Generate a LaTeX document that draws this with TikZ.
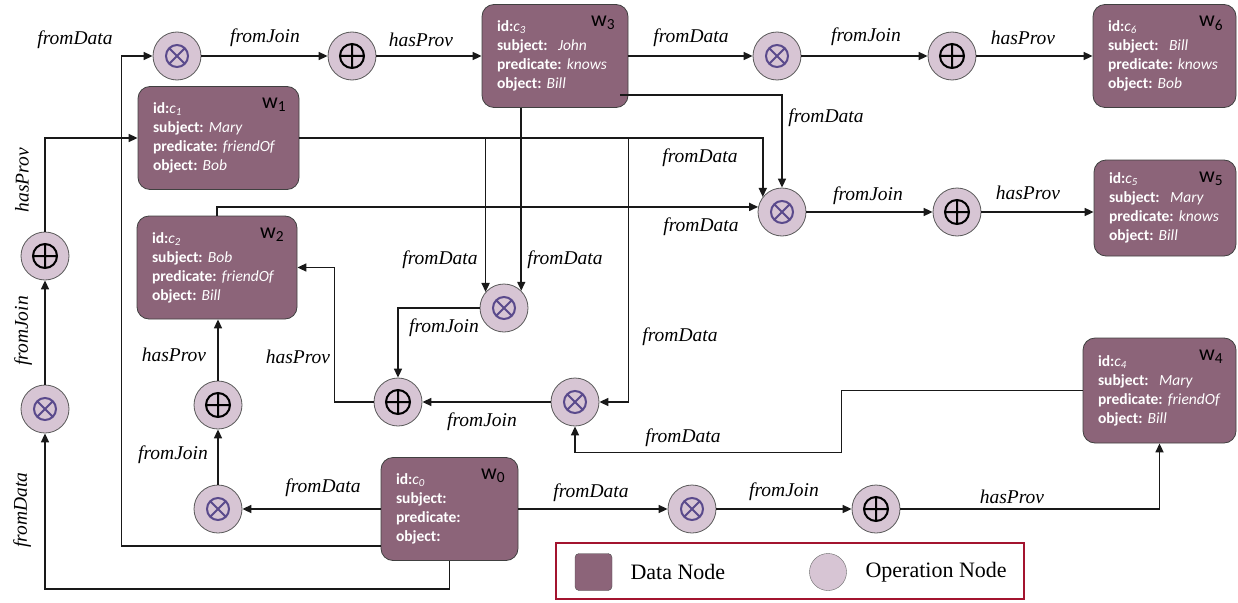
\documentclass[tikz,border=0pt]{standalone}
\usepackage{fontspec}
\setmainfont{Liberation Serif}
\newfontfamily\datafont{Carlito}
\usepackage{xcolor}
\usepackage{tikz}
\usetikzlibrary{shapes,arrows.meta,positioning,calc}

\definecolor{datafill}{HTML}{8C6479}
\definecolor{opfill}{HTML}{D7C5D4}
\definecolor{crosscol}{HTML}{5A4A8C}
\definecolor{legendred}{HTML}{A3142F}

\tikzset{
  link/.style={draw=black!90, line width=1.6pt, -{Triangle[length=9pt,width=8pt]}},
  lbl/.style={font=\fontsize{19.5}{21}\selectfont\itshape, inner sep=0pt},
  vlbl/.style={lbl, rotate=90},
  datanode/.style={rectangle, rounded corners=12pt, draw=black!75, line width=0.8pt, fill=datafill,
    text=white, minimum height=103pt, inner xsep=15pt, text width=#1, align=left,
    font=\datafont\fontsize{15.5}{19}\selectfont},
  wname/.style={font=\datafont\fontsize{22}{22}\selectfont, text=black, inner sep=0pt},
  wtag/.style={label={[wname, anchor=north east, xshift=-13pt, yshift=-12pt]north east:w\textsubscript{#1}}},
  opnode/.style={circle, draw=black!65, line width=0.8pt, fill=opfill, minimum size=48pt, inner sep=0pt},
  joinop/.style={opnode, path picture={
      \draw[crosscol, line width=2pt] (path picture bounding box.center) circle (11pt)
        ([shift={(45:11pt)}]path picture bounding box.center) -- ([shift={(225:11pt)}]path picture bounding box.center)
        ([shift={(135:11pt)}]path picture bounding box.center) -- ([shift={(315:11pt)}]path picture bounding box.center);}},
  unionop/.style={opnode, path picture={
      \draw[black, line width=2pt] (path picture bounding box.center) circle (12pt)
        ([xshift=-12pt]path picture bounding box.center) -- ([xshift=12pt]path picture bounding box.center)
        ([yshift=-12pt]path picture bounding box.center) -- ([yshift=12pt]path picture bounding box.center);}}
}

\begin{document}
\begin{tikzpicture}[x=1pt, y=-1pt]
    \useasboundingbox (0,0) rectangle (1238,602);

    % data nodes
    \node[datanode=107pt, wtag=0] (w0) at (449.5,509) {\textbf{id:}\textit{c\textsubscript{0}}\\ \textbf{subject:}\\ \textbf{predicate:}\\ \textbf{object:}};
    \node[datanode=131pt, wtag=1] (w1) at (218.5,138) {\textbf{id:}\textit{c\textsubscript{1}}\\ \textbf{subject:}~\textit{Mary}\\ \textbf{predicate:}~\textit{friendOf}\\ \textbf{object:}~\textit{Bob}};
    \node[datanode=130pt, wtag=2] (w2) at (217,267.5) {\textbf{id:}\textit{c\textsubscript{2}}\\ \textbf{subject:}~\textit{Bob}\\ \textbf{predicate:}~\textit{friendOf}\\ \textbf{object:}~\textit{Bill}};
    \node[datanode=116pt, wtag=3] (w3) at (555,56) {\textbf{id:}\textit{c\textsubscript{3}}\\ \textbf{subject:}~~\textit{John}\\ \textbf{predicate:}~\textit{knows}\\ \textbf{object:}~\textit{Bill}};
    \node[datanode=123pt, wtag=4, minimum height=105pt] (w4) at (1159.5,390.5) {\textbf{id:}\textit{c\textsubscript{4}}\\ \textbf{subject:}~~\textit{Mary}\\ \textbf{predicate:}~\textit{friendOf}\\ \textbf{object:}~\textit{Bill}};
    \node[datanode=112pt, wtag=5, minimum height=96pt] (w5) at (1165,208) {\textbf{id:}\textit{c\textsubscript{5}}\\ \textbf{subject:}~~\textit{Mary}\\ \textbf{predicate:}~\textit{knows}\\ \textbf{object:}~\textit{Bill}};
    \node[datanode=113pt, wtag=6] (w6) at (1164.5,56) {\textbf{id:}\textit{c\textsubscript{6}}\\ \textbf{subject:}~~\textit{Bill}\\ \textbf{predicate:}~\textit{knows}\\ \textbf{object:}~\textit{Bob}};

    % operation nodes
    \node[joinop] (j1) at (177,56) {};
    \node[unionop] (u1) at (352,56) {};
    \node[joinop] (j6) at (777,56) {};
    \node[unionop] (u6) at (952,56) {};
    \node[joinop] (j5) at (782,212) {};
    \node[unionop] (u5) at (957,212) {};
    \node[joinop] (jl) at (45,409) {};
    \node[unionop] (ul) at (45,256) {};
    \node[joinop] (j2a) at (218,509) {};
    \node[unionop] (u2a) at (218,405) {};
    \node[joinop] (j2b) at (504,308) {};
    \node[unionop] (u2b) at (398,402) {};
    \node[joinop] (j2c) at (575,402) {};
    \node[joinop] (j4) at (692,509) {};
    \node[unionop] (u4) at (876,509) {};
    \coordinate (cx) at ([xshift=29pt]j2c.east);

    % connectors
    \draw[link] ([yshift=-37pt]w0.west) -| ([xshift=-31pt]j1.west) -- (j1);
    \draw[link] (w0.south) -- ++(0,28) -| (jl);
    \draw[link] (jl) -- (ul);
    \draw[link] (ul) |- (w1);
    \draw[link] (j1) -- (u1);
    \draw[link] (u1) -- (w3);
    \draw[link] (w3) -- (j6);
    \draw[link] (j6) -- (u6);
    \draw[link] (u6) -- (w6);
    \draw[link] ([xshift=-8pt,yshift=-39pt]w3.east) -| (j5);
    \draw[link] (w1.east) -| (j5.142);
    \draw[link] (j2b.139 |- w1.east) -- (j2b.139);
    \draw[link] (w3.south -| j2b.45) -- (j2b.45);
    \draw[link] (cx |- w1.east) |- (j2c);
    \draw[link] (w2.north) |- (j5.168);
    \draw[link] (j2b) -| (u2b);
    \draw[link] (j2c) -- (u2b);
    \draw[link] (u2b.west) -- ++(-39,0) |- (w2);
    \draw[link] (w4.west) -| ++(-241,62) -| (j2c);
    \draw[link] (w0) -- (j2a);
    \draw[link] (j2a) -- (u2a);
    \draw[link] (u2a) -- (u2a |- w2.south);
    \draw[link] (w0) -- (j4);
    \draw[link] (j4) -- (u4);
    \draw[link] (u4) -| (w4);
    \draw[link] (j5) -- (u5);
    \draw[link] (u5) -- (u5 -| w5.west);

    % labels
    \node[lbl] (l1) at (75,40) {fromData};
    \node[lbl] (l2) at (265,38) {fromJoin};
    \node[lbl] (l3) at (421,40) {hasProv};
    \node[lbl] (l4) at (691,38) {fromData};
    \node[lbl] (l5) at (866,37) {fromJoin};
    \node[lbl] (l6) at (1023,38) {hasProv};
    \node[lbl] (l7) at (826,118) {fromData};
    \node[lbl] (l8) at (700,158) {fromData};
    \node[lbl] (l9) at (701,227) {fromData};
    \node[lbl] (l10) at (868,196) {fromJoin};
    \node[lbl] (l11) at (1028,193) {hasProv};
    \node[lbl] (l12) at (440,260) {fromData};
    \node[lbl] (l13) at (565,260) {fromData};
    \node[lbl] (l14) at (444,328) {fromJoin};
    \node[lbl] (l15) at (680,337) {fromData};
    \node[lbl] (l16) at (482,422) {fromJoin};
    \node[lbl] (l17) at (683,438) {fromData};
    \node[lbl] (l18) at (298,357) {hasProv};
    \node[lbl] (l19) at (174,355) {hasProv};
    \node[lbl] (l20) at (173,455) {fromJoin};
    \node[lbl] (l21) at (323,488) {fromData};
    \node[lbl] (l22) at (591,493) {fromData};
    \node[lbl] (l23) at (784,492) {fromJoin};
    \node[lbl] (l24) at (1012,497) {hasProv};
    \node[vlbl] (l25) at (22,180) {hasProv};
    \node[vlbl] (l26) at (23,331) {fromJoin};
    \node[vlbl] (l27) at (22,510) {fromData};

    % legend
    \node[draw=legendred, line width=2.5pt, minimum width=468pt, minimum height=56pt] (legend) at (790,571) {};
    \node[rectangle, rounded corners=4pt, fill=datafill, draw=black!70, minimum size=37pt] (keydata) at (593.5,572) {};
    \node[anchor=west, font=\fontsize{22}{24}\selectfont] (keydatatext) at (627,572) {Data Node};
    \node[circle, fill=opfill, draw=black!60, minimum size=37pt] (keyop) at (828,572) {};
    \node[anchor=west, font=\fontsize{22}{24}\selectfont] (keyoptext) at (862,572) {Operation Node};
\end{tikzpicture}
\end{document}
